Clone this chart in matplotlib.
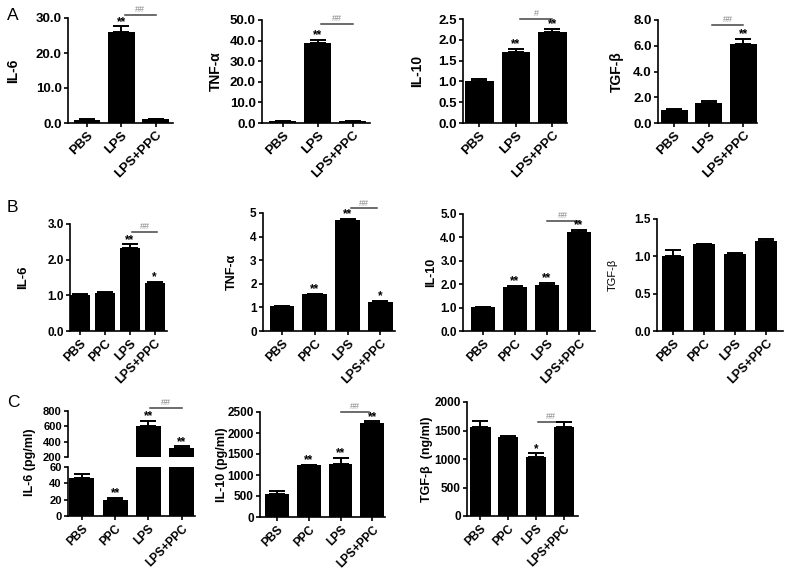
import numpy as np
import matplotlib
matplotlib.use('Agg')
import matplotlib.pyplot as plt

plt.rcParams['font.family'] = ['Liberation Sans', 'DejaVu Sans']
plt.rcParams['font.weight'] = 'bold'

W, H = 789, 572

# ---- data ----
a_groups = ['PBS', 'LPS', 'LPS+PPC']
b_groups = ['PBS', 'PPC', 'LPS', 'LPS+PPC']

a_il6 = [1.0, 26.0, 1.1]
a_il6_err = [0.1, 1.6, 0.1]
a_tnf = [1.0, 39.0, 0.8]
a_tnf_err = [0.1, 1.5, 0.1]
a_il10 = [1.02, 1.70, 2.18]
a_il10_err = [0.04, 0.09, 0.09]
a_tgf = [1.03, 1.57, 6.1]
a_tgf_err = [0.05, 0.15, 0.45]

b_il6 = [1.01, 1.07, 2.32, 1.34]
b_il6_err = [0.03, 0.02, 0.11, 0.04]
b_tnf = [1.04, 1.56, 4.70, 1.23]
b_tnf_err = [0.04, 0.02, 0.04, 0.04]
b_il10 = [1.02, 1.87, 1.97, 4.22]
b_il10_err = [0.02, 0.05, 0.08, 0.10]
b_tgf = [1.01, 1.16, 1.03, 1.20]
b_tgf_err = [0.07, 0.01, 0.02, 0.03]

c_il6 = [47, 19.5, 605, 320]
c_il6_err = [4, 2.5, 65, 18]
c_il10 = [555, 1230, 1270, 2245]
c_il10_err = [60, 10, 145, 30]
c_tgf = [1555, 1390, 1030, 1555]
c_tgf_err = [110, 8, 70, 90]

fig = plt.figure(figsize=(W / 100, H / 100), dpi=100)


def make_ax(x0, x1, ytop, ybot):
    return fig.add_axes([x0 / W, 1 - ybot / H, (x1 - x0) / W, (ybot - ytop) / H])


def style(ax, ticks, fmt, groups, xlim, show_x=True, ysize=8.5, xsize=9):
    ax.spines['top'].set_visible(False)
    ax.spines['right'].set_visible(False)
    ax.spines['left'].set_linewidth(1.2)
    ax.spines['bottom'].set_linewidth(1.2)
    ax.set_yticks(ticks)
    ax.set_yticklabels([fmt % t for t in ticks], fontsize=ysize, fontweight='bold')
    ax.set_ylim(ticks[0], ticks[-1])
    ax.set_xlim(*xlim)
    ax.tick_params(axis='both', direction='out', length=3, width=1.2, pad=1.5)
    if show_x:
        ax.set_xticks(range(len(groups)))
        ax.set_xticklabels(groups, rotation=45, ha='right', rotation_mode='anchor',
                           fontsize=xsize, fontweight='bold')
    else:
        ax.spines['bottom'].set_visible(False)
        ax.set_xticks([])


def bars(ax, vals, errs, width=0.75):
    x = np.arange(len(vals))
    ax.bar(x, vals, width=width, color='black', zorder=2)
    ax.errorbar(x, vals, yerr=[np.zeros(len(errs)), errs], fmt='none',
                ecolor='black', elinewidth=1.4, capsize=5.5, capthick=1.4, zorder=3)


def star(ax, i, y, s):
    ax.annotate(s, (i, y), xytext=(0, -1), textcoords='offset points', ha='center',
                va='bottom', fontsize=8.5, fontweight='bold', annotation_clip=False)


def hashbar(ax, i, j, y, s):
    ax.plot([i, j], [y, y], color='#444444', lw=1.1, clip_on=False)
    ax.annotate(s, ((i + j) / 2, y), xytext=(0, 0.5), textcoords='offset points',
                ha='center', va='bottom', fontsize=6.5, color='#888888',
                fontweight='normal', annotation_clip=False)


def ylab(ax, text, xc, x0, x1, size=9.5):
    ax.set_ylabel(text, fontsize=size, fontweight='bold', va='center')
    ax.yaxis.set_label_coords((xc - x0) / (x1 - x0), 0.5)


# ---- row A ----
ax = make_ax(68, 173, 18, 123)
bars(ax, a_il6, a_il6_err, 0.78)
style(ax, [0, 10, 20, 30], '%.1f', a_groups, (-0.55, 2.5), ysize=9.5, xsize=9.5)
ylab(ax, 'IL-6', 13, 68, 173, 10)
star(ax, 1, a_il6[1] + a_il6_err[1], '**')
hashbar(ax, 1.1, 2, 30.9, '##')

ax = make_ax(262, 370, 20, 123)
bars(ax, a_tnf, a_tnf_err, 0.78)
style(ax, [0, 10, 20, 30, 40, 50], '%.1f', a_groups, (-0.6, 2.5), ysize=9.5, xsize=9.5)
ylab(ax, 'TNF-α', 216, 262, 370, 10)
star(ax, 1, a_tnf[1] + a_tnf_err[1], '**')
hashbar(ax, 1.1, 2, 48, '##')

ax = make_ax(463, 567, 19, 123)
bars(ax, a_il10, a_il10_err, 0.78)
style(ax, [0, 0.5, 1.0, 1.5, 2.0, 2.5], '%.1f', a_groups, (-0.45, 2.4), ysize=9.5, xsize=9.5)
ylab(ax, 'IL-10', 417, 463, 567, 10)
star(ax, 1, a_il10[1] + a_il10_err[1], '**')
star(ax, 2, a_il10[2] + a_il10_err[2], '**')
hashbar(ax, 1.1, 2, 2.5, '#')

ax = make_ax(658, 757, 20, 123)
bars(ax, a_tgf, a_tgf_err, 0.78)
style(ax, [0, 2, 4, 6, 8], '%.1f', a_groups, (-0.47, 2.4), ysize=9.5, xsize=9.5)
ylab(ax, 'TGF-β', 617, 658, 757, 10)
star(ax, 2, a_tgf[2] + a_tgf_err[2], '**')
hashbar(ax, 1.1, 2, 7.6, '##')

# ---- row B ----
ax = make_ax(70, 167, 224, 331)
bars(ax, b_il6, b_il6_err, 0.8)
style(ax, [0, 1, 2, 3], '%.1f', b_groups, (-0.4, 3.5))
ylab(ax, 'IL-6', 23, 70, 167)
star(ax, 2, b_il6[2] + b_il6_err[2], '**')
star(ax, 3, b_il6[3] + b_il6_err[3], '*')
hashbar(ax, 2.1, 3.1, 2.78, '##')

ax = make_ax(263, 395, 213, 331)
bars(ax, b_tnf, b_tnf_err, 0.75)
style(ax, [0, 1, 2, 3, 4, 5], '%d', b_groups, (-0.58, 3.45))
ylab(ax, 'TNF-α', 232, 263, 395, 9)
star(ax, 1, b_tnf[1] + b_tnf_err[1], '**')
star(ax, 2, b_tnf[2] + b_tnf_err[2], '**')
star(ax, 3, b_tnf[3] + b_tnf_err[3], '*')
hashbar(ax, 2.1, 2.9, 5.2, '##')

ax = make_ax(463, 595, 214, 331)
bars(ax, b_il10, b_il10_err, 0.75)
style(ax, [0, 1, 2, 3, 4, 5], '%.1f', b_groups, (-0.62, 3.5))
ylab(ax, 'IL-10', 431, 463, 595, 9)
star(ax, 1, b_il10[1] + b_il10_err[1], '**')
star(ax, 2, b_il10[2] + b_il10_err[2], '**')
star(ax, 3, b_il10[3] + b_il10_err[3], '**')
hashbar(ax, 2.0, 3.0, 4.7, '##')

ax = make_ax(657, 783, 219, 331)
bars(ax, b_tgf, b_tgf_err, 0.72)
style(ax, [0, 0.5, 1.0, 1.5], '%.1f', b_groups, (-0.52, 3.55))
ax.set_ylabel('TGF-β', fontsize=8, fontweight='normal', va='center')
ax.yaxis.set_label_coords((613 - 657) / (783 - 657), 0.5)

# ---- row C ----
# IL-6 with broken y axis
up = make_ax(68, 195, 411, 457)
lo = make_ax(68, 195, 467, 516)
bars(up, c_il6, c_il6_err, 0.75)
bars(lo, c_il6, c_il6_err, 0.75)
style(up, [200, 400, 600, 800], '%d', b_groups, (-0.42, 3.4), show_x=False, ysize=8)
style(lo, [0, 20, 40, 60], '%d', b_groups, (-0.42, 3.4), ysize=8, xsize=8.5)
lo.set_ylabel('IL-6 (pg/ml)', fontsize=9, fontweight='bold', va='center')
lo.yaxis.set_label_coords((30 - 68) / (195 - 68), 1.1)
star(lo, 1, c_il6[1] + c_il6_err[1], '**')
star(up, 2, c_il6[2] + c_il6_err[2], '**')
star(up, 3, c_il6[3] + c_il6_err[3], '**')
hashbar(up, 2.05, 3.0, 839, '##')

ax = make_ax(260, 385, 412, 517)
bars(ax, c_il10, c_il10_err, 0.75)
style(ax, [0, 500, 1000, 1500, 2000, 2500], '%d', b_groups, (-0.54, 3.4), xsize=8.5)
ylab(ax, 'IL-10 (pg/ml)', 222, 260, 385, 9)
star(ax, 1, c_il10[1] + c_il10_err[1], '**')
star(ax, 2, c_il10[2] + c_il10_err[2], '**')
star(ax, 3, c_il10[3] + c_il10_err[3], '**')
hashbar(ax, 2.0, 2.9, 2500, '##')

ax = make_ax(467, 578, 402, 516)
bars(ax, c_tgf, c_tgf_err, 0.73)
style(ax, [0, 500, 1000, 1500, 2000], '%d', b_groups, (-0.48, 3.5), xsize=8.5)
ylab(ax, 'TGF-β  (ng/ml)', 427, 467, 578, 9)
star(ax, 2, c_tgf[2] + c_tgf_err[2], '*')
hashbar(ax, 2.05, 3.0, 1650, '##')

# panel letters
for letter, (px, py) in zip('ABC', [(7, 20), (7, 212), (7, 407)]):
    fig.text(px / W, 1 - py / H, letter, fontsize=12.5, fontweight='normal',
             ha='left', va='baseline')

fig.savefig('out.png', dpi=100)
